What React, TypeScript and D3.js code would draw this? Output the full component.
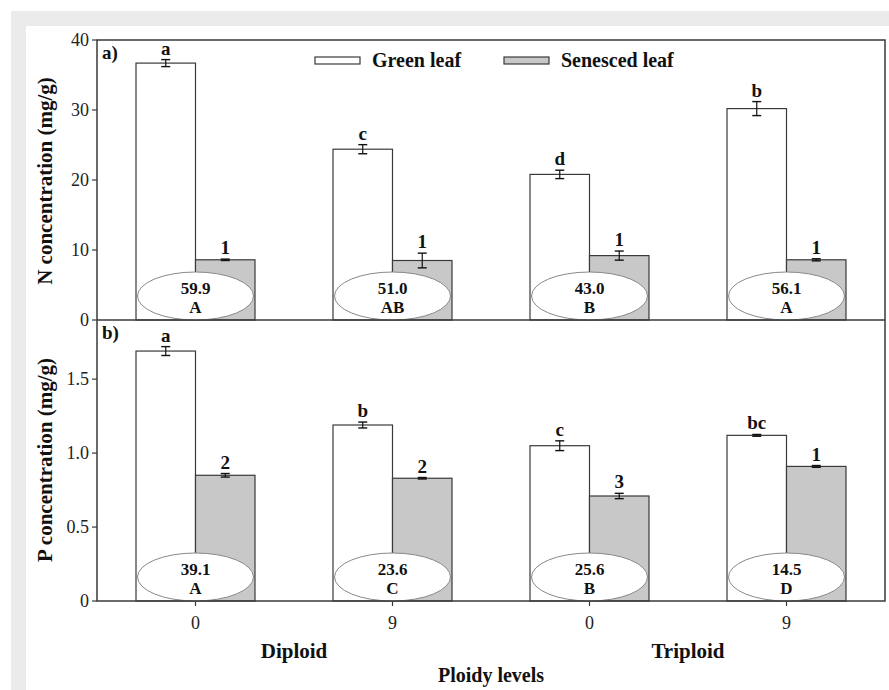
import React from "react";
import * as d3 from "d3";

const categories = ["0", "9", "0", "9"];
const ploidyGroups = ["Diploid", "Triploid"];
const seriesNames = ["Green leaf", "Senesced leaf"];

const nGreen = [36.7, 24.4, 20.8, 30.2];
const nGreenErr = [0.5, 0.65, 0.6, 1.0];
const nSenesced = [8.6, 8.5, 9.2, 8.6];
const nSenescedErr = [0.1, 1.05, 0.65, 0.15];
const nGreenLetters = ["a", "c", "d", "b"];
const nSenescedLetters = ["1", "1", "1", "1"];
const nResorption = ["59.9", "51.0", "43.0", "56.1"];
const nResorptionLetters = ["A", "AB", "B", "A"];
const nTicks = [0, 10, 20, 30, 40];

const pGreen = [1.69, 1.19, 1.05, 1.12];
const pGreenErr = [0.03, 0.02, 0.033, 0.006];
const pSenesced = [0.85, 0.83, 0.71, 0.91];
const pSenescedErr = [0.012, 0.005, 0.018, 0.006];
const pGreenLetters = ["a", "b", "c", "bc"];
const pSenescedLetters = ["2", "2", "3", "1"];
const pResorption = ["39.1", "23.6", "25.6", "14.5"];
const pResorptionLetters = ["A", "C", "B", "D"];
const pTicks = [0, 0.5, 1.0, 1.5];

const W = 889;
const H = 690;
const left = 97;
const right = 885;
const FONT = "'Liberation Serif', 'Times New Roman', serif";
const STROKE = "#3a3a3a";

const x = d3
  .scaleBand<number>()
  .domain(d3.range(categories.length))
  .range([left, right])
  .paddingInner(0.396)
  .paddingOuter(0.198);
const xs = d3.scaleBand<string>().domain(seriesNames).range([0, x.bandwidth()]);

type PanelProps = {
  y: d3.ScaleLinear<number, number>;
  green: number[];
  greenErr: number[];
  sen: number[];
  senErr: number[];
  gL: string[];
  sL: string[];
  res: string[];
  resL: string[];
  ticks: number[];
  fmt: (v: number) => string;
  tag: string;
  title: string;
  titleY: number;
};

function Panel(p: PanelProps) {
  const y0 = p.y(0);
  const series = [
    { name: seriesNames[0], vals: p.green, errs: p.greenErr, letters: p.gL, fill: "#ffffff" },
    { name: seriesNames[1], vals: p.sen, errs: p.senErr, letters: p.sL, fill: "#c8c8c8" },
  ];
  return (
    <g>
      {series.map((s) =>
        s.vals.map((v, i) => {
          const bx = (x(i) as number) + (xs(s.name) as number);
          const bw = xs.bandwidth();
          const cx = bx + bw / 2;
          const top = p.y(v + s.errs[i]);
          const bot = p.y(v - s.errs[i]);
          return (
            <g key={s.name + i}>
              <rect x={bx} y={p.y(v)} width={bw} height={y0 - p.y(v)} fill={s.fill} stroke={STROKE} strokeWidth={1.2} />
              <line x1={cx} x2={cx} y1={top} y2={bot} stroke="#111" strokeWidth={1.2} />
              <line x1={cx - 4.5} x2={cx + 4.5} y1={top} y2={top} stroke="#111" strokeWidth={1.4} />
              <line x1={cx - 4.5} x2={cx + 4.5} y1={bot} y2={bot} stroke="#111" strokeWidth={1.4} />
              <text x={cx} y={top - 5} textAnchor="middle" fontFamily={FONT} fontWeight="bold" fontSize={19} fill="#111">
                {s.letters[i]}
              </text>
            </g>
          );
        })
      )}
      {p.res.map((r, i) => {
        const cx = (x(i) as number) + x.bandwidth() / 2;
        const ry = 24;
        const cy = y0 - ry;
        return (
          <g key={"e" + i}>
            <ellipse cx={cx} cy={cy} rx={58} ry={ry} fill="#fff" stroke="#888" strokeWidth={1} />
            <text x={cx} y={cy - 2} textAnchor="middle" fontFamily={FONT} fontWeight="bold" fontSize={17} fill="#111">
              {r}
            </text>
            <text x={cx} y={cy + 17} textAnchor="middle" fontFamily={FONT} fontWeight="bold" fontSize={17} fill="#111">
              {p.resL[i]}
            </text>
          </g>
        );
      })}
      {p.ticks.map((t) => (
        <g key={"t" + t}>
          <line x1={left - 5} x2={left} y1={p.y(t)} y2={p.y(t)} stroke={STROKE} strokeWidth={1.2} />
          <text x={left - 8} y={p.y(t)} dy="0.35em" textAnchor="end" fontFamily={FONT} fontSize={18} fill="#222">
            {p.fmt(t)}
          </text>
        </g>
      ))}
      <text x={102} y={p.y.range()[1] + 19} fontFamily={FONT} fontWeight="bold" fontSize={19} fill="#111">
        {p.tag}
      </text>
      <text
        transform={`translate(45,${p.titleY}) rotate(-90)`}
        textAnchor="middle"
        dy="0.35em"
        fontFamily={FONT}
        fontWeight="bold"
        fontSize={21}
        fill="#111"
      >
        {p.title}
      </text>
    </g>
  );
}

export default function App() {
  const yN = d3.scaleLinear().domain([0, 40]).range([320, 40]);
  const yP = d3.scaleLinear().domain([0, 1.9]).range([601, 320]);
  const fmtP = (v: number) => (v === 0 ? "0" : d3.format(".1f")(v));
  return (
    <svg width={W} height={H} style={{ position: "absolute", left: 0, top: 0 }} fontFamily={FONT}>
      <rect x={0} y={0} width={W} height={H} fill="#fff" />
      <rect x={11} y={11} width={W - 11} height={15} fill="#ebebeb" />
      <rect x={11} y={11} width={15} height={H - 11} fill="#ebebeb" />

      <Panel
        y={yN}
        green={nGreen}
        greenErr={nGreenErr}
        sen={nSenesced}
        senErr={nSenescedErr}
        gL={nGreenLetters}
        sL={nSenescedLetters}
        res={nResorption}
        resL={nResorptionLetters}
        ticks={nTicks}
        fmt={(v) => String(v)}
        tag="a)"
        title="N concentration (mg/g)"
        titleY={181}
      />
      <Panel
        y={yP}
        green={pGreen}
        greenErr={pGreenErr}
        sen={pSenesced}
        senErr={pSenescedErr}
        gL={pGreenLetters}
        sL={pSenescedLetters}
        res={pResorption}
        resL={pResorptionLetters}
        ticks={pTicks}
        fmt={fmtP}
        tag="b)"
        title="P concentration (mg/g)"
        titleY={460}
      />

      {/* frames */}
      <rect x={left} y={40} width={right - left} height={601 - 40} fill="none" stroke={STROKE} strokeWidth={1.5} />
      <line x1={left} x2={right} y1={320} y2={320} stroke={STROKE} strokeWidth={1.5} />

      {/* x ticks */}
      {categories.map((c, i) => {
        const cx = (x(i) as number) + x.bandwidth() / 2;
        return (
          <g key={"x" + i}>
            <line x1={cx} x2={cx} y1={601} y2={606} stroke={STROKE} strokeWidth={1.2} />
            <text x={cx} y={623} dy="0.35em" textAnchor="middle" fontSize={18} fill="#222">
              {c}
            </text>
          </g>
        );
      })}
      {ploidyGroups.map((g, gi) => {
        const a = (x(gi * 2) as number) + x.bandwidth() / 2;
        const b = (x(gi * 2 + 1) as number) + x.bandwidth() / 2;
        return (
          <text key={g} x={(a + b) / 2} y={651} dy="0.35em" textAnchor="middle" fontWeight="bold" fontSize={21} fill="#111">
            {g}
          </text>
        );
      })}
      <text x={(left + right) / 2} y={675} dy="0.35em" textAnchor="middle" fontWeight="bold" fontSize={20} fill="#111">
        Ploidy levels
      </text>

      {/* legend */}
      {seriesNames.map((s, i) => {
        const lx = i === 0 ? 315 : 504;
        return (
          <g key={s}>
            <rect x={lx} y={57} width={45} height={7} fill={i === 0 ? "#fff" : "#c8c8c8"} stroke={STROKE} strokeWidth={1.2} />
            <text x={lx + 57} y={60} dy="0.35em" fontWeight="bold" fontSize={20} fill="#111">
              {s}
            </text>
          </g>
        );
      })}
    </svg>
  );
}
